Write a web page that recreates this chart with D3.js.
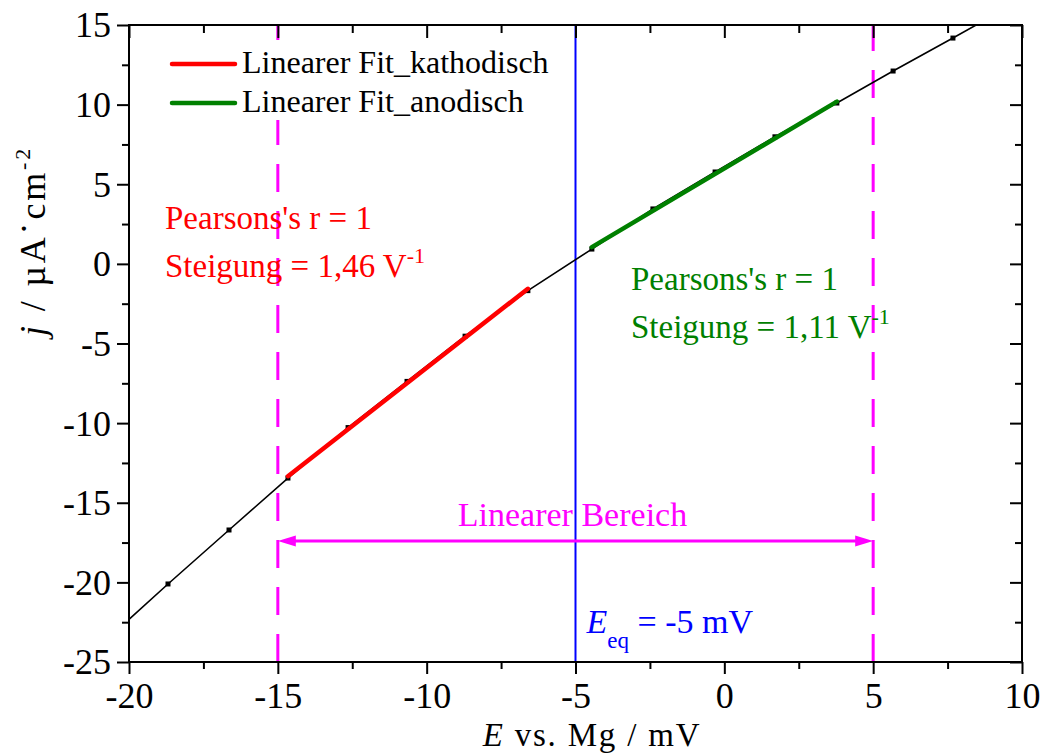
<!DOCTYPE html>
<html>
<head>
<meta charset="utf-8">
<script src="https://cdn.jsdelivr.net/npm/d3@7"></script>
<style>
  body { margin: 0; background: #fff; }
  svg { display: block; }
</style>
</head>
<body>
<svg id="chart" width="1047" height="756"></svg>
<script>
// Measured polarisation curve: potential E vs. Mg (mV) and current density j (µA·cm⁻²)
const potential = [-20.69, -18.69, -16.64, -14.66, -12.64, -10.66, -8.71, -6.60,
                   -4.45, -2.40, -0.31, 1.70, 3.78, 5.67, 7.68, 9.70];
const currentDensity = [-23.50, -20.10, -16.71, -13.45, -10.28, -7.38, -4.54, -1.68,
                        0.93, 3.45, 5.77, 7.98, 10.10, 12.11, 14.18, 16.30];

// Linear fits: cathodic and anodic branch
const fitNames = ["Linearer Fit_kathodisch", "Linearer Fit_anodisch"];
const fitStartE = [-14.66, -4.45];
const fitEndE = [-6.60, 3.78];
const fitStartJ = [-13.33, 1.05];
const fitSlopes = [1.46, 1.11];
const fitSlopeLabels = ["1,46", "1,11"];
const fitPearson = ["1", "1"];

// Equilibrium potential and linear range (mV)
const equilibriumE = -5;
const linearRange = [-15, 5];

// Axis ticks
const xMajorTicks = [-20, -15, -10, -5, 0, 5, 10];
const xMinorTicks = [-17.5, -12.5, -7.5, -2.5, 2.5, 7.5];
const yMajorTicks = [-25, -20, -15, -10, -5, 0, 5, 10, 15];
const yMinorTicks = [-22.5, -17.5, -12.5, -7.5, -2.5, 2.5, 7.5, 12.5];

const fitColors = ["#ff0000", "#008000"];
const magenta = "#ff00ff";
const blue = "#0000ff";
const serif = '"Liberation Serif", "Times New Roman", Tinos, serif';

const svg = d3.select("#chart").style("font-family", serif);
const plot = { left: 129, right: 1022, top: 25, bottom: 662 };

const x = d3.scaleLinear().domain([-20, 10]).range([plot.left, plot.right]);
const y = d3.scaleLinear().domain([-25, 15]).range([plot.bottom, plot.top]);

svg.append("defs").append("clipPath").attr("id", "plotClip")
  .append("rect")
  .attr("x", plot.left).attr("y", plot.top)
  .attr("width", plot.right - plot.left).attr("height", plot.bottom - plot.top);

const content = svg.append("g").attr("clip-path", "url(#plotClip)");

// Linear range boundaries (dashed)
content.selectAll("line.range")
  .data(linearRange)
  .join("line")
  .attr("class", "range")
  .attr("x1", d => x(d)).attr("x2", d => x(d))
  .attr("y1", plot.bottom).attr("y2", plot.top)
  .attr("stroke", magenta)
  .attr("stroke-width", 3)
  .attr("stroke-dasharray", "28,19");

// Equilibrium potential
content.append("line")
  .attr("x1", x(equilibriumE)).attr("x2", x(equilibriumE))
  .attr("y1", plot.bottom).attr("y2", plot.top)
  .attr("stroke", blue)
  .attr("stroke-width", 2);

// Measured curve
const points = potential.map((e, i) => [e, currentDensity[i]]);
content.append("path")
  .datum(points)
  .attr("fill", "none")
  .attr("stroke", "#000")
  .attr("stroke-width", 1.6)
  .attr("d", d3.line().x(d => x(d[0])).y(d => y(d[1])));

content.selectAll("rect.marker")
  .data(points)
  .join("rect")
  .attr("class", "marker")
  .attr("x", d => x(d[0]) - 2.5)
  .attr("y", d => y(d[1]) - 2.5)
  .attr("width", 5).attr("height", 5)
  .attr("fill", "#000");

// Fit lines
const fits = fitNames.map((name, i) => ({
  name,
  color: fitColors[i],
  e0: fitStartE[i],
  e1: fitEndE[i],
  j0: fitStartJ[i],
  j1: fitStartJ[i] + fitSlopes[i] * (fitEndE[i] - fitStartE[i])
}));

content.selectAll("line.fit")
  .data(fits)
  .join("line")
  .attr("class", "fit")
  .attr("x1", d => x(d.e0)).attr("y1", d => y(d.j0))
  .attr("x2", d => x(d.e1)).attr("y2", d => y(d.j1))
  .attr("stroke", d => d.color)
  .attr("stroke-width", 4.5)
  .attr("stroke-linecap", "round");

// Linear range arrow
const arrowY = y(-17.4);
const rangeG = svg.append("g");
rangeG.append("line")
  .attr("x1", x(linearRange[0]) + 10).attr("x2", x(linearRange[1]) - 10)
  .attr("y1", arrowY).attr("y2", arrowY)
  .attr("stroke", magenta).attr("stroke-width", 3);
rangeG.selectAll("path.head")
  .data([[linearRange[0], 1], [linearRange[1], -1]])
  .join("path")
  .attr("class", "head")
  .attr("fill", magenta)
  .attr("d", d => {
    const tip = x(d[0]);
    const dir = d[1];
    return `M${tip},${arrowY} L${tip + dir * 18},${arrowY - 5.5} L${tip + dir * 18},${arrowY + 5.5} Z`;
  });
rangeG.append("text")
  .attr("x", x(equilibriumE) - 3).attr("y", y(-16.45))
  .attr("text-anchor", "middle")
  .attr("font-size", 34)
  .attr("fill", magenta)
  .text("Linearer Bereich");

// Equilibrium label
const eqLabel = svg.append("text")
  .attr("x", x(equilibriumE) + 11).attr("y", 633)
  .attr("font-size", 34)
  .attr("fill", blue);
eqLabel.append("tspan").attr("font-style", "italic").text("E");
eqLabel.append("tspan").attr("font-size", 23).attr("dy", 15).text("eq");
eqLabel.append("tspan").attr("dy", -15).text(" = " + equilibriumE + " mV");

// Fit statistics
const statPos = [{ x: 165, y: 229 }, { x: 631, y: 290 }];
fits.forEach((f, i) => {
  const g = svg.append("g").attr("fill", f.color).attr("font-size", 33);
  g.append("text").attr("x", statPos[i].x).attr("y", statPos[i].y)
    .text("Pearsons's r = " + fitPearson[i]);
  const t = g.append("text").attr("x", statPos[i].x).attr("y", statPos[i].y + 48);
  t.append("tspan").text("Steigung = " + fitSlopeLabels[i] + " V");
  t.append("tspan").attr("font-size", 22).attr("dy", -14).text("-1");
});

// Legend
const legend = svg.append("g");
legend.append("rect")
  .attr("x", 158).attr("y", 40).attr("width", 402).attr("height", 80)
  .attr("fill", "#fff");
fits.forEach((f, i) => {
  const ly = 64 + i * 39;
  legend.append("line")
    .attr("x1", 172).attr("x2", 235).attr("y1", ly).attr("y2", ly)
    .attr("stroke", f.color).attr("stroke-width", 4.5).attr("stroke-linecap", "round");
  legend.append("text")
    .attr("x", 242).attr("y", ly + 9)
    .attr("font-size", 32)
    .text(f.name);
});

// Axes
const fmt = d => String(d);
function styleAxis(g) {
  g.select(".domain").remove();
  g.selectAll(".tick line").attr("stroke", "#000").attr("stroke-width", 2);
}

const bottom = svg.append("g").attr("transform", `translate(0,${plot.bottom})`)
  .call(d3.axisBottom(x).tickValues(xMajorTicks).tickFormat(fmt).tickSize(12).tickSizeOuter(0));
styleAxis(bottom);
bottom.attr("font-family", serif);
bottom.selectAll(".tick text").attr("font-size", 36)
  .attr("fill", "#000").attr("y", 46).attr("dy", 0);
svg.append("g").attr("transform", `translate(0,${plot.bottom})`)
  .call(d3.axisBottom(x).tickValues(xMinorTicks).tickFormat("").tickSize(7).tickSizeOuter(0))
  .call(styleAxis);

const left = svg.append("g").attr("transform", `translate(${plot.left},0)`)
  .call(d3.axisLeft(y).tickValues(yMajorTicks).tickFormat(fmt).tickSize(12).tickPadding(6).tickSizeOuter(0));
styleAxis(left);
left.attr("font-family", serif);
left.selectAll(".tick text").attr("font-size", 36)
  .attr("fill", "#000").attr("dy", "0.33em");
svg.append("g").attr("transform", `translate(${plot.left},0)`)
  .call(d3.axisLeft(y).tickValues(yMinorTicks).tickFormat("").tickSize(7).tickSizeOuter(0))
  .call(styleAxis);

// Mirrored inward ticks on top and right
svg.append("g").attr("transform", `translate(0,${plot.top})`)
  .call(d3.axisTop(x).tickValues(xMajorTicks).tickFormat("").tickSize(-13).tickSizeOuter(0))
  .call(styleAxis);
svg.append("g").attr("transform", `translate(0,${plot.top})`)
  .call(d3.axisTop(x).tickValues(xMinorTicks).tickFormat("").tickSize(-8).tickSizeOuter(0))
  .call(styleAxis);
svg.append("g").attr("transform", `translate(${plot.right},0)`)
  .call(d3.axisRight(y).tickValues(yMajorTicks).tickFormat("").tickSize(-12).tickSizeOuter(0))
  .call(styleAxis);
svg.append("g").attr("transform", `translate(${plot.right},0)`)
  .call(d3.axisRight(y).tickValues(yMinorTicks).tickFormat("").tickSize(-7).tickSizeOuter(0))
  .call(styleAxis);

// Frame
svg.append("rect")
  .attr("x", plot.left).attr("y", plot.top)
  .attr("width", plot.right - plot.left).attr("height", plot.bottom - plot.top)
  .attr("fill", "none").attr("stroke", "#000").attr("stroke-width", 2);

// Axis titles
const xTitle = svg.append("text")
  .attr("x", 592).attr("y", 746)
  .attr("text-anchor", "middle").attr("font-size", 33)
  .attr("letter-spacing", 1.8);
xTitle.append("tspan").attr("font-style", "italic").text("E");
xTitle.append("tspan").text(" vs. Mg / mV");

const yTitle = svg.append("text")
  .attr("transform", "translate(45,241) rotate(-90)")
  .attr("text-anchor", "middle").attr("font-size", 36)
  .attr("letter-spacing", 2.8);
yTitle.append("tspan").attr("font-style", "italic").text("j");
yTitle.append("tspan").text(" / µA");
yTitle.append("tspan").attr("dy", -9).text("·");
yTitle.append("tspan").attr("dy", 9).text("cm");
yTitle.append("tspan").attr("font-size", 22).attr("dy", -15).text("-2");
</script>
</body>
</html>
